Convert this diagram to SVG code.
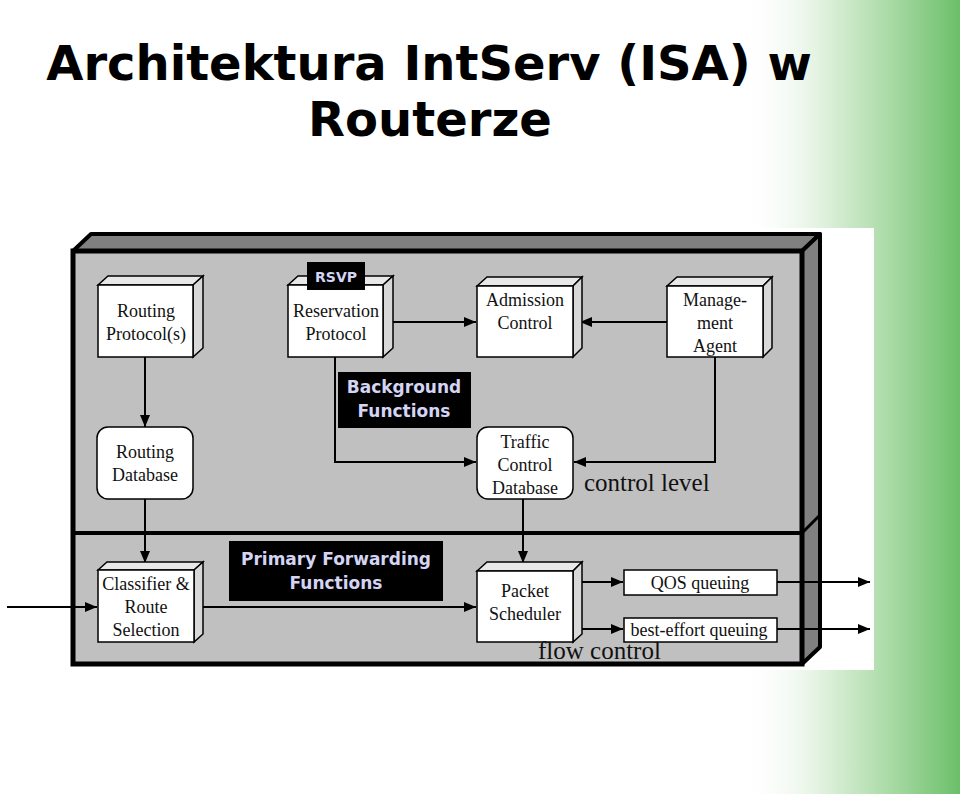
<svg xmlns="http://www.w3.org/2000/svg" width="960" height="794" viewBox="0 0 960 794">
<defs>
<linearGradient id="green" x1="0" y1="0" x2="1" y2="0">
<stop offset="0" stop-color="#ffffff" stop-opacity="0"/>
<stop offset="0.35" stop-color="#e4f3e2"/>
<stop offset="0.7" stop-color="#a6d9a2"/>
<stop offset="1" stop-color="#6cbf6a"/>
</linearGradient>
<marker id="ah" markerWidth="12" markerHeight="10" refX="12" refY="5" orient="auto" markerUnits="userSpaceOnUse">
<path d="M0,0 L12,5 L0,10 Z" fill="#000"/>
</marker>
<style>
.title{font-family:"DejaVu Sans",Verdana,sans-serif;font-weight:bold;font-size:48px;fill:#000;text-anchor:middle}
.t{font-family:"Liberation Serif","Times New Roman",serif;font-size:18px;fill:#111;text-anchor:middle}
.big{font-family:"Liberation Serif","Times New Roman",serif;font-size:25px;fill:#111}
.lab{font-family:"DejaVu Sans",sans-serif;font-weight:bold;font-size:17px;fill:#d4d4f4;text-anchor:middle}
.face{fill:#fff;stroke:#000;stroke-width:1.5}
.side{fill:#d8d8d8;stroke:#000;stroke-width:1.5}
.top{fill:#e8e8e8;stroke:#000;stroke-width:1.5}
.ln{fill:none;stroke:#000;stroke-width:2}
</style>
</defs>
<rect width="960" height="794" fill="#fff"/>
<rect x="740" y="0" width="220" height="794" fill="url(#green)"/>
<text class="title" x="429" y="80">Architektura IntServ (ISA) w</text>
<text class="title" x="430" y="136">Routerze</text>

<g id="frame">
<rect x="0" y="228" width="874" height="442" fill="#fff"/>
<polygon points="73,251 91,234 820,234 802,251" fill="#808080" stroke="#000" stroke-width="4" stroke-linejoin="round"/>
<polygon points="802,251 820,234 820,647 802,664" fill="#808080" stroke="#000" stroke-width="4" stroke-linejoin="round"/>
<rect x="73" y="251" width="729" height="413" fill="#c0c0c0" stroke="#000" stroke-width="5"/>
<line x1="73" y1="533" x2="802" y2="533" stroke="#000" stroke-width="4"/>
<line x1="802" y1="533" x2="820" y2="515" stroke="#000" stroke-width="3"/>
</g>

<g id="connectors">
<line class="ln" x1="383" y1="322" x2="476" y2="322" marker-end="url(#ah)"/>
<line class="ln" x1="667" y1="322" x2="580" y2="322" marker-end="url(#ah)"/>
<line class="ln" x1="145" y1="357" x2="145" y2="427" marker-end="url(#ah)"/>
<polyline class="ln" points="335,357 335,462 476,462" marker-end="url(#ah)"/>
<polyline class="ln" points="715,357 715,462 574,462" marker-end="url(#ah)"/>
<line class="ln" x1="145" y1="499" x2="145" y2="563" marker-end="url(#ah)"/>
<line class="ln" x1="523" y1="499" x2="523" y2="563" marker-end="url(#ah)"/>
<line class="ln" x1="7" y1="607" x2="97" y2="607" marker-end="url(#ah)"/>
<line class="ln" x1="197" y1="607" x2="476" y2="607" marker-end="url(#ah)"/>
<line class="ln" x1="577" y1="582" x2="623" y2="582" marker-end="url(#ah)"/>
<line class="ln" x1="577" y1="629" x2="623" y2="629" marker-end="url(#ah)"/>
<line class="ln" x1="777" y1="582" x2="870" y2="582" marker-end="url(#ah)"/>
<line class="ln" x1="777" y1="629" x2="870" y2="629" marker-end="url(#ah)"/>
</g>

<g id="routing-protocol">
<polygon class="top" points="98,285 108,276 203,276 193,285"/>
<polygon class="side" points="193,285 203,276 203,348 193,357"/>
<rect class="face" x="98" y="285" width="95" height="72"/>
<text class="t" x="146" y="317">Routing</text>
<text class="t" x="146" y="340">Protocol(s)</text>
</g>

<g id="reservation-protocol">
<polygon class="top" points="288,285 298,276 393,276 383,285"/>
<polygon class="side" points="383,285 393,276 393,348 383,357"/>
<rect class="face" x="288" y="285" width="95" height="72"/>
<text class="t" x="336" y="317">Reservation</text>
<text class="t" x="336" y="340">Protocol</text>
<rect x="307" y="262" width="58" height="28" fill="#000"/>
<text class="lab" x="336" y="282" style="font-size:14px">RSVP</text>
</g>

<g id="admission-control">
<polygon class="top" points="477,286 487,277 582,277 573,286"/>
<polygon class="side" points="573,286 582,277 582,348 573,357"/>
<rect class="face" x="477" y="286" width="96" height="71"/>
<text class="t" x="525" y="306">Admission</text>
<text class="t" x="525" y="329">Control</text>
</g>

<g id="management-agent">
<polygon class="top" points="667,286 677,277 772,277 763,286"/>
<polygon class="side" points="763,286 772,277 772,348 763,357"/>
<rect class="face" x="667" y="286" width="96" height="71"/>
<text class="t" x="715" y="306">Manage-</text>
<text class="t" x="715" y="329">ment</text>
<text class="t" x="715" y="352">Agent</text>
</g>

<g id="background-functions">
<rect x="338" y="372" width="133" height="56" fill="#000"/>
<text class="lab" x="404" y="393">Background</text>
<text class="lab" x="404" y="417">Functions</text>
</g>

<g id="routing-database">
<rect class="face" x="97" y="427" width="96" height="72" rx="11" stroke-width="2"/>
<text class="t" x="145" y="458">Routing</text>
<text class="t" x="145" y="481">Database</text>
</g>

<g id="traffic-control-database">
<rect class="face" x="477" y="427" width="96" height="72" rx="11" stroke-width="2"/>
<text class="t" x="525" y="448">Traffic</text>
<text class="t" x="525" y="471">Control</text>
<text class="t" x="525" y="494">Database</text>
</g>

<text class="big" x="584" y="491">control level</text>

<g id="classifier">
<polygon class="top" points="98,570 107,562 203,562 194,570"/>
<polygon class="side" points="194,570 203,562 203,634 194,642"/>
<rect class="face" x="98" y="570" width="96" height="72"/>
<text class="t" x="146" y="590">Classifier &amp;</text>
<text class="t" x="146" y="613">Route</text>
<text class="t" x="146" y="636">Selection</text>
</g>

<g id="primary-forwarding">
<rect x="229" y="541" width="214" height="60" fill="#000"/>
<text class="lab" x="336" y="565">Primary Forwarding</text>
<text class="lab" x="336" y="589">Functions</text>
</g>

<g id="packet-scheduler">
<polygon class="top" points="477,571 487,562 582,562 573,571"/>
<polygon class="side" points="573,571 582,562 582,634 573,642"/>
<rect class="face" x="477" y="571" width="96" height="71"/>
<text class="t" x="525" y="597">Packet</text>
<text class="t" x="525" y="620">Scheduler</text>
</g>

<g id="qos-queuing">
<rect class="face" x="624" y="570" width="153" height="25"/>
<text class="t" x="700" y="589">QOS queuing</text>
</g>

<g id="best-effort-queuing">
<rect class="face" x="624" y="618" width="153" height="24"/>
<text class="t" x="699" y="636">best-effort queuing</text>
</g>

<text class="big" x="538" y="659">flow control</text>
</svg>
